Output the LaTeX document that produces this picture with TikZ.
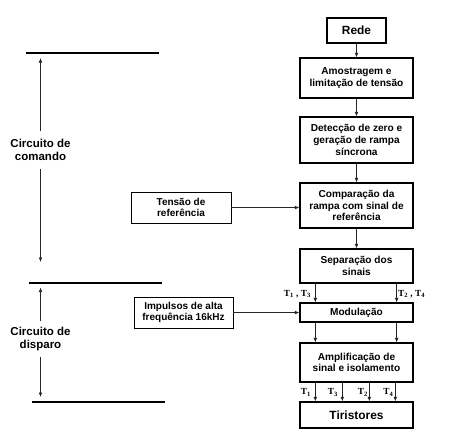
\documentclass[tikz,border=0pt]{standalone}
\usepackage{fontspec}
\setmainfont{Liberation Sans}
\newfontfamily\tfont{Liberation Serif}
\usetikzlibrary{arrows.meta}
\begin{document}
\begin{tikzpicture}[x=1pt,y=-1pt,
  mainbox/.style={draw,line width=1.3pt,minimum width=113pt,inner sep=0pt,align=center,
    font=\fontsize{10.1}{11.7}\selectfont\bfseries},
  bigbox/.style={mainbox,font=\fontsize{11.9}{13}\selectfont\bfseries},
  sidebox/.style={draw,line width=0.9pt,minimum width=99pt,minimum height=31pt,inner sep=0pt,align=center,
    font=\fontsize{10}{11.7}\selectfont\bfseries},
  arr/.style={-{Latex[length=4.5pt,width=3.8pt]},line width=0.7pt,black!85},
  sidelabel/.style={align=center,inner sep=0pt,outer sep=8pt,font=\fontsize{11.5}{13.6}\selectfont\bfseries},
  tlab/.style={inner sep=0pt,font=\tfont\fontsize{9.3}{10}\selectfont\bfseries},
  bar/.style={line width=2pt}]
\useasboundingbox (0,0) rectangle (461,437);

% main column
\node[bigbox,minimum width=59pt,minimum height=25pt] (rede) at (356.5,30.5) {Rede};
\node[mainbox,minimum height=40pt] (amo) at (356.5,78) {Amostragem e\\limitação de tensão};
\node[mainbox,minimum height=46pt] (det) at (356.5,140) {Detecção de zero e\\geração de rampa\\síncrona};
\node[mainbox,minimum height=45pt] (comp) at (356.5,205.5) {Comparação da\\rampa com sinal de\\referência};
\node[mainbox,minimum height=34pt] (sep) at (356.5,266) {Separação dos\\sinais};
\node[mainbox,minimum height=19pt] (mod) at (356.5,312.5) {Modulação};
\node[mainbox,minimum height=39pt] (amp) at (356.5,362.5) {Amplificação de\\sinal e isolamento};
\node[bigbox,minimum height=26pt] (tir) at (356.5,415) {Tiristores};

\draw[arr] (rede) -- (amo);
\draw[arr] (amo) -- (det);
\draw[arr] (det) -- (comp);
\draw[arr] (comp) -- (sep);

\draw[arr] ([xshift=16pt]sep.south west) -- ([xshift=16pt]mod.north west);
\draw[arr] ([xshift=-17pt]sep.south east) -- ([xshift=-17pt]mod.north east);
\draw[arr] ([xshift=16pt]mod.south west) -- ([xshift=16pt]amp.north west);
\draw[arr] ([xshift=-17pt]mod.south east) -- ([xshift=-17pt]amp.north east);

\draw[arr] ([xshift=16pt]amp.south west) -- ([xshift=16pt]tir.north west);
\draw[arr] ([xshift=43pt]amp.south west) -- ([xshift=43pt]tir.north west);
\draw[arr] ([xshift=70pt]amp.south west) -- ([xshift=70pt]tir.north west);
\draw[arr] ([xshift=96pt]amp.south west) -- ([xshift=96pt]tir.north west);

% T labels
\node[tlab,anchor=east] (t13) at (311,294) {T\textsubscript{1} , T\textsubscript{3}};
\node[tlab,anchor=west] (t24) at (398,294) {T\textsubscript{2} , T\textsubscript{4}};
\node[tlab,anchor=east] (b1) at (311,392.5) {T\textsubscript{1}};
\node[tlab,anchor=east] (b3) at (338,392.5) {T\textsubscript{3}};
\node[tlab,anchor=east] (b2) at (368,392.5) {T\textsubscript{2}};
\node[tlab,anchor=east] (b4) at (393.5,392.5) {T\textsubscript{4}};

% side inputs
\node[sidebox,minimum width=100pt] (ten) at (181,207.5) {Tensão de\\referência};
\node[sidebox] (imp) at (183.5,312.5) {Impulsos de alta\\frequência 16kHz};
\draw[arr] (ten.east) -- (ten.east -| comp.west);
\draw[arr] (imp.east) -- (imp.east -| mod.west);

% left bars
\draw[bar] (26,52.7) -- (159,52.7);
\draw[bar] (29,283.3) -- (162,283.3);
\draw[bar] (32,402.3) -- (165,402.3);

\coordinate (a1) at (40.5,58);
\coordinate (a2) at (40.5,262);
\coordinate (a3) at (40.5,287.5);
\coordinate (a4) at (40.5,397);
\node[sidelabel] (cmd) at (40.5,150) {Circuito de\\comando};
\node[sidelabel,outer sep=6pt] (disp) at (40.5,339) {Circuito de\\disparo};
\draw[arr] (cmd.north) -- (a1);
\draw[arr] (cmd.south) -- (a2);
\draw[arr] (disp.north) -- (a3);
\draw[arr] (disp.south) -- (a4);
\end{tikzpicture}
\end{document}
